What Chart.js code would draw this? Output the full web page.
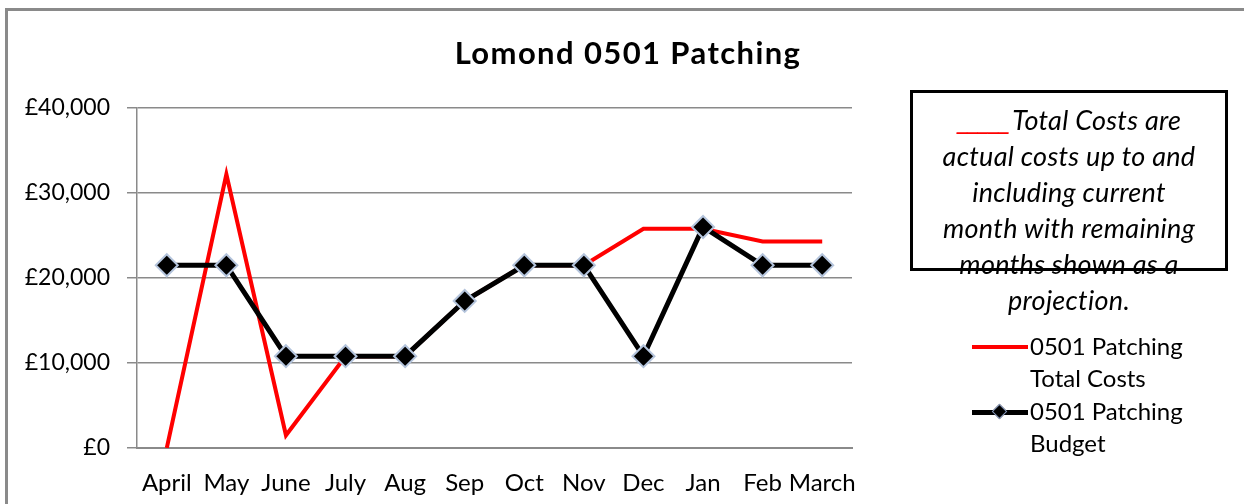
<!DOCTYPE html>
<html>
<head>
<meta charset="utf-8">
<script src="https://cdn.jsdelivr.net/npm/chart.js@4/dist/chart.umd.min.js"></script>
<style>
  html, body { margin: 0; padding: 0; background: #fff; }
  #wrap { position: relative; width: 1244px; height: 504px; overflow: hidden; font-family: Lato, "Noto Sans", sans-serif; }
  #frame { position: absolute; left: 5px; top: 8px; width: 1260px; height: 520px; border: 3px solid #8a8a8a; box-sizing: border-box; }
  canvas { position: absolute; left: 0; top: 0; }
  #title { position: absolute; left: 0; width: 1256px; top: 33px; text-align: center; font-weight: bold; font-size: 31px; letter-spacing: 1.4px; color: #000; }
  #note { position: absolute; left: 900px; top: 100px; width: 338px; text-align: center; font-style: italic; font-size: 27px; letter-spacing: 0.3px; line-height: 36px; color: #000; }
  #box { position: absolute; left: 910px; top: 90px; width: 318px; height: 181px; border: 3px solid #000; box-sizing: border-box; }
  .leg { position: absolute; left: 1030px; font-size: 24px; line-height: 32px; color: #000; }
  .sw { position: absolute; left: 972px; width: 56px; }
  .us { color: #ff0000; letter-spacing: -3px; margin-right: 4px; font-size: 30px; }
</style>
</head>
<body>
<div id="wrap">
  <div id="frame"></div>
  <canvas id="c" width="1244" height="504"></canvas>
  <div id="title">Lomond 0501 Patching</div>
  <div id="note"><span class="us">_____</span>Total Costs are<br>actual costs up to and<br>including current<br>month with remaining<br>months shown as a<br>projection.</div>
  <div id="box"></div>
  <div class="sw" style="top:345px;height:4px;background:#ff0000;"></div>
  <div class="leg" style="top:330px;">0501 Patching<br>Total Costs</div>
  <div class="sw" style="top:410px;height:5px;background:#000;"></div>
  <div style="position:absolute;left:994px;top:406px;width:9px;height:9px;background:#000;transform:rotate(45deg);border:1px solid #8899bb;"></div>
  <div class="leg" style="top:395px;">0501 Patching<br>Budget</div>
</div>
<script>
const categories = ["April","May","June","July","Aug","Sep","Oct","Nov","Dec","Jan","Feb","March"];
const totalCosts = [0, 32200, 1500, 10800, 10800, 17300, 21500, 21500, 25800, 25800, 24300, 24300];
const budget = [21500, 21500, 10800, 10800, 10800, 17300, 21500, 21500, 10800, 26000, 21500, 21500];
const yTicks = [0, 10000, 20000, 30000, 40000];
const seriesNames = ["0501 Patching Total Costs", "0501 Patching Budget"];

const gridColor = "#8a8a8a";
new Chart(document.getElementById("c"), {
  type: "line",
  data: {
    labels: categories,
    datasets: [
      {
        label: seriesNames[1],
        data: budget,
        borderColor: "#000000",
        borderWidth: 5,
        pointStyle: "rectRot",
        pointRadius: 11,
        pointBackgroundColor: "#000000",
        pointBorderColor: "#b4c4dc",
        pointBorderWidth: 2,
        tension: 0,
        order: 1
      },
      {
        label: seriesNames[0],
        data: totalCosts,
        borderColor: "#ff0000",
        borderWidth: 4,
        pointRadius: 0,
        tension: 0,
        order: 2
      }
    ]
  },
  options: {
    responsive: false,
    animation: false,
    layout: { padding: { left: 0, right: 392, top: 108, bottom: 0 } },
    plugins: { legend: { display: false }, tooltip: { enabled: false }, title: { display: false } },
    scales: {
      x: {
        offset: true,
        grid: { display: false, drawTicks: false },
        border: { display: true, color: gridColor, width: 2 },
        ticks: { color: "#000", font: { family: "Lato", size: 24 }, padding: 21, maxRotation: 0, autoSkip: false },
        afterFit: (s) => { s.height = 56; }
      },
      y: {
        min: 0,
        max: 40000,
        afterBuildTicks: (s) => { s.ticks = yTicks.map(v => ({ value: v })); },
        grid: { color: gridColor, lineWidth: 1.5, tickLength: 10, drawTicks: true },
        border: { display: true, color: gridColor, width: 1.5 },
        ticks: {
          color: "#000",
          font: { family: "Lato", size: 23 },
          padding: 17,
          callback: (v) => "£" + Number(v).toLocaleString("en-GB")
        },
        afterFit: (s) => { s.width = 137; }
      }
    }
  }
});
</script>
</body>
</html>
